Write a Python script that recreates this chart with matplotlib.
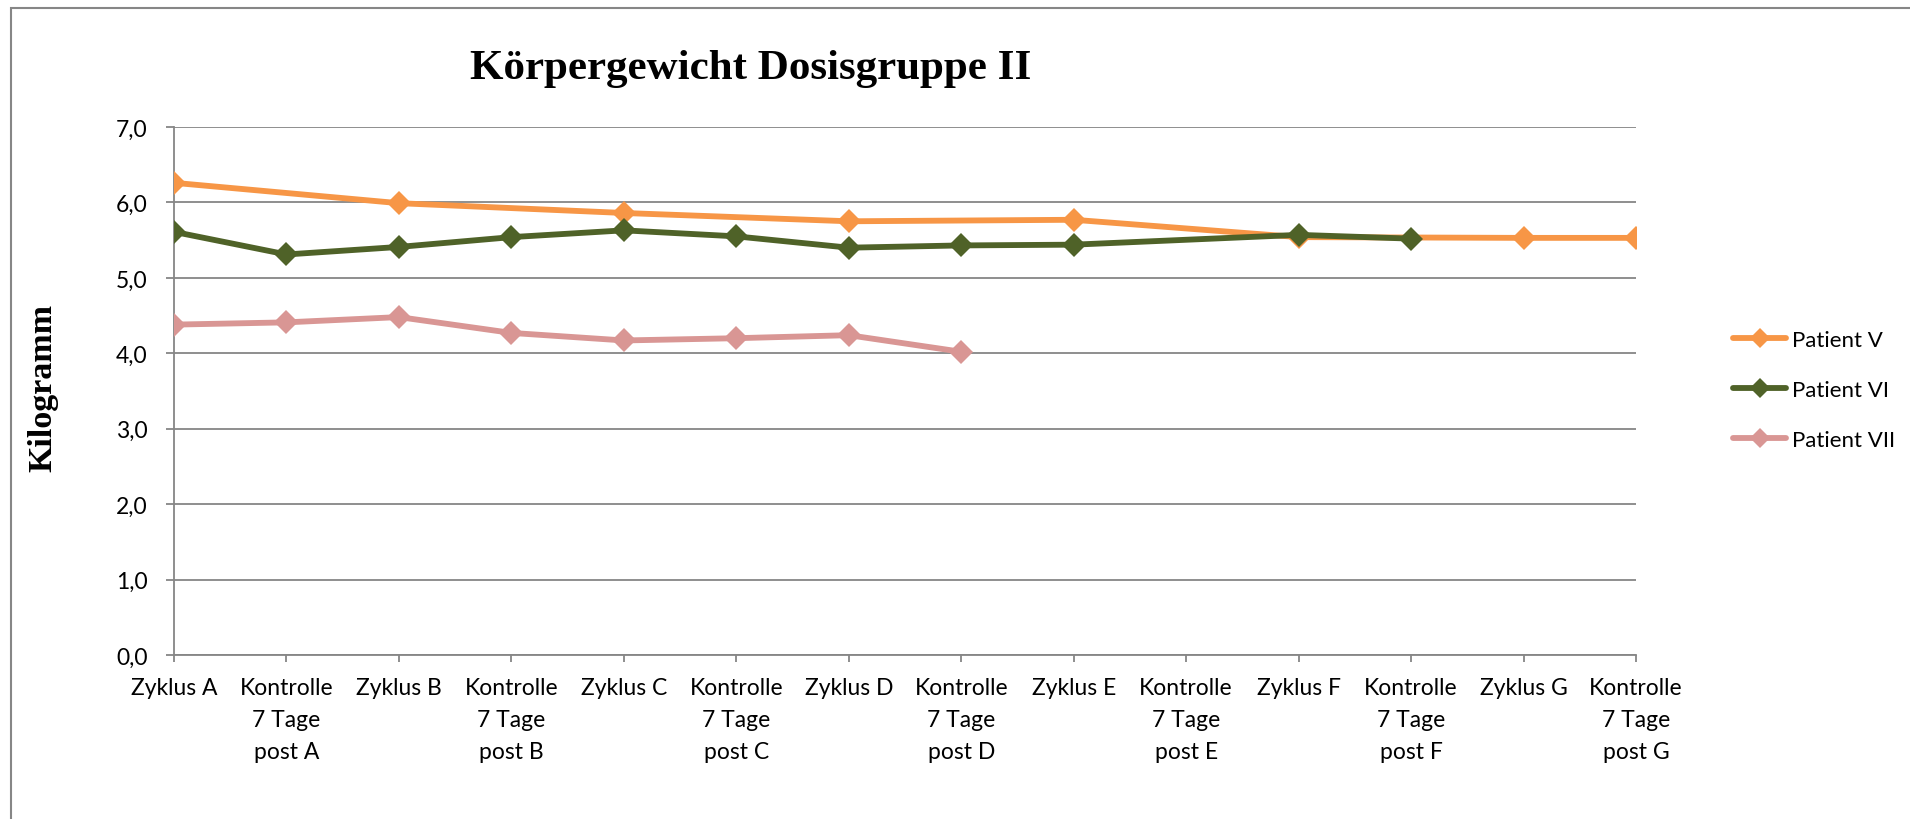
import numpy as np
import matplotlib
matplotlib.use("Agg")
import matplotlib.pyplot as plt
from matplotlib.patches import Rectangle

categories = ["Zyklus A", "Kontrolle\n7 Tage\npost A", "Zyklus B", "Kontrolle\n7 Tage\npost B",
              "Zyklus C", "Kontrolle\n7 Tage\npost C", "Zyklus D", "Kontrolle\n7 Tage\npost D",
              "Zyklus E", "Kontrolle\n7 Tage\npost E", "Zyklus F", "Kontrolle\n7 Tage\npost F",
              "Zyklus G", "Kontrolle\n7 Tage\npost G"]
patient_v = [6.26, None, 5.99, None, 5.86, None, 5.75, None, 5.77, None, 5.54, None, 5.53, 5.53]
patient_vi = [5.61, 5.31, 5.41, 5.54, 5.63, 5.55, 5.40, 5.43, 5.44, None, 5.57, 5.52, None, None]
patient_vii = [4.38, 4.41, 4.48, 4.27, 4.17, 4.20, 4.24, 4.02, None, None, None, None, None, None]
series_names = ["Patient V", "Patient VI", "Patient VII"]
y_ticks = [0, 1, 2, 3, 4, 5, 6, 7]
y_tick_labels = ["0,0", "1,0", "2,0", "3,0", "4,0", "5,0", "6,0", "7,0"]

colors = ["#F79646", "#4F6228", "#D99694"]
grey = "#868686"
tick_font = "Lato"

fig = plt.figure(figsize=(19.1, 8.2), dpi=100)
W, H = 1910, 820
ax = fig.add_axes([174 / W, 1 - 656 / H, (1636 - 174) / W, (656 - 128) / H])

x = np.arange(len(categories))
for vals, name, col in zip([patient_v, patient_vi, patient_vii], series_names, colors):
    y = np.array([np.nan if v is None else v for v in vals], dtype=float)
    ok = ~np.isnan(y)
    ax.plot(x[ok], y[ok], color=col, lw=4.2, marker="D", ms=12.5, mew=0,
            solid_capstyle="round", label=name, zorder=3)

ax.set_xlim(0, len(categories) - 1)
ax.set_ylim(0, 7)
ax.set_yticks(y_ticks)
ax.set_yticklabels(y_tick_labels, fontsize=16.5, family=tick_font)
ax.set_xticks(x)
ax.set_xticklabels(categories, fontsize=16.5, family=tick_font, linespacing=1.64)
ax.grid(axis="y", color=grey, lw=1.3)
ax.set_axisbelow(True)
for s in ["top", "right"]:
    ax.spines[s].set_visible(False)
for s in ["left", "bottom"]:
    ax.spines[s].set_color(grey)
    ax.spines[s].set_linewidth(1.3)
ax.tick_params(axis="y", length=6, width=1.3, color=grey, pad=13)
ax.tick_params(axis="x", length=5, width=1.3, color=grey, pad=11)

ax.set_ylabel("Kilogramm", family="Liberation Serif", fontweight="bold", fontsize=24.5)
ax.yaxis.set_label_coords(58 / W, 1 - 388 / H, transform=fig.transFigure)

fig.text(751 / W, 1 - 79 / H, "Körpergewicht Dosisgruppe II", family="Liberation Serif",
         fontweight="bold", fontsize=31, ha="center", va="baseline")

fig.legend(loc="center left", bbox_to_anchor=(1733 / W, 1 - 391 / H), frameon=False,
           prop={"family": tick_font, "size": 16}, handlelength=2.4, handletextpad=0.25,
           labelspacing=1.35, borderpad=0, borderaxespad=0, markerscale=0.85)

# outer chart frame (right and bottom edges fall outside the image)
fig.add_artist(Rectangle((11 / W, -0.1), 1.2, 1.1 - 9 / H, transform=fig.transFigure,
                         fill=False, edgecolor=grey, lw=1.5))

fig.savefig("out.png", dpi=100)
